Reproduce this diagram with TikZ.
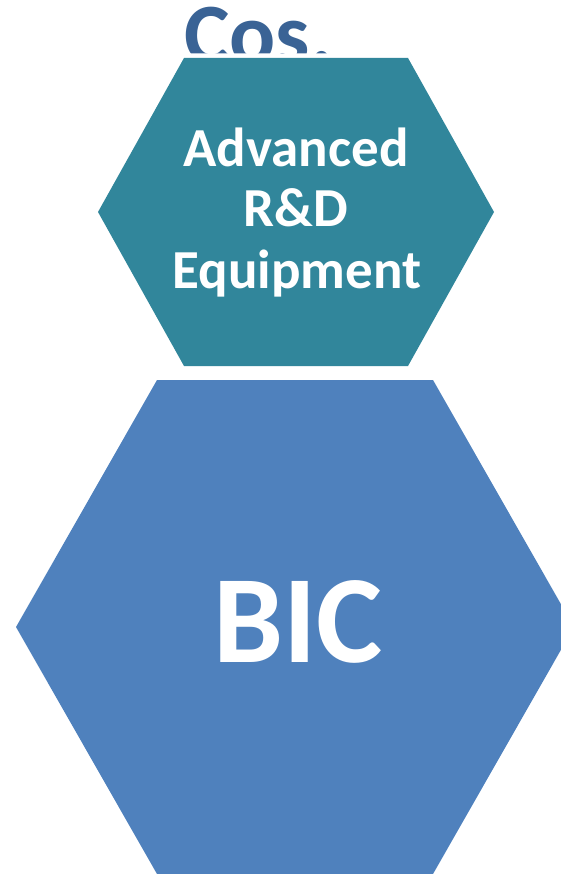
\documentclass[tikz,border=0pt]{standalone}
\usepackage{fontspec}
\setmainfont{Carlito}
\definecolor{cosblue}{HTML}{3A6395}
\definecolor{hexteal}{HTML}{31869B}
\definecolor{hexblue}{HTML}{4F81BD}
\tikzset{
  hexlabel/.style={text=white, font=\bfseries\fontsize{55}{60}\selectfont, inner sep=0pt, anchor=base},
  biglabel/.style={text=white, font=\bfseries\fontsize{125}{130}\selectfont, inner sep=0pt, anchor=base},
  titlelabel/.style={text=cosblue, font=\bfseries\fontsize{86}{90}\selectfont, inner sep=0pt, anchor=base west}
}
\begin{document}
\begin{tikzpicture}[x=1pt,y=-1pt]
\useasboundingbox (0,0) rectangle (561,874);
\clip (0,0) rectangle (561,874);
% partially hidden title
\node[titlelabel] (title) at (184,64) {Cos.};
% top hexagon with white halo
\draw[white, line width=9pt, line join=miter]
  (184,58) -- (408,58) -- (494,212) -- (408,366) -- (184,366) -- (98,212) -- cycle;
\fill[hexteal]
  (184,58) -- (408,58) -- (494,212) -- (408,366) -- (184,366) -- (98,212) -- cycle;
% bottom hexagon
\fill[hexblue]
  (157,380) -- (433,380) -- (574,627) -- (433,874) -- (157,874) -- (16,627) -- cycle;
% labels
\node[hexlabel] (l1) at (296,167) {Advanced};
\node[hexlabel] (l2) at (296,227) {R\&D};
\node[hexlabel] (l3) at (297,288) {Equipment};
\node[biglabel] (bic) at (298,662) {BIC};
\end{tikzpicture}
\end{document}
